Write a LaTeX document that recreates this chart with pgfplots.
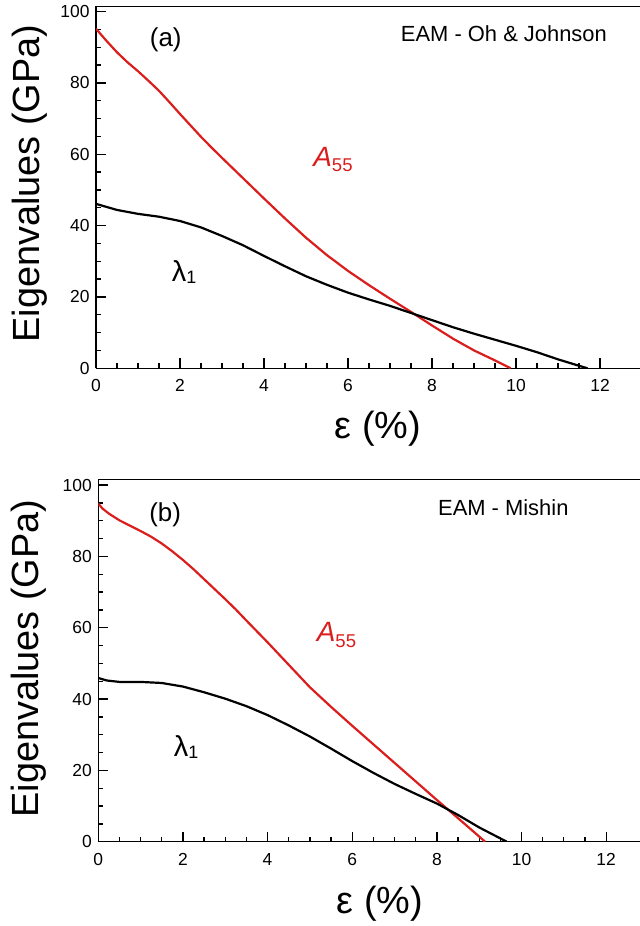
\documentclass[border=0pt]{standalone}
\usepackage{pgfplots}
\pgfplotsset{compat=1.18}
\usepackage{fontspec}
\setmainfont{Liberation Sans}
\definecolor{myred}{RGB}{218,30,30}
\pgfplotsset{
  myax/.style={
    scale only axis, anchor=south west,
    xmin=0, ymin=0, ymax=101.5,
    axis x line=box, axis y line=left,
    axis line style={-, line width=1.5bp, black},
    xtick={0,2,...,12}, ytick={0,20,...,100},
    minor x tick num=3, minor y tick num=3,
    tick align=inside, xtick pos=bottom, ytick pos=left,
    major tick length=10bp, minor tick length=5bp,
    every tick/.style={black, line width=1.3bp},
    tick label style={font=\fontsize{17.5}{20}\selectfont},
    /pgf/number format/assume math mode=true,
    xticklabel style={yshift=-8bp},
    yticklabel style={xshift=-3bp},
    label style={font=\fontsize{38}{44}\selectfont},
    ylabel={Eigenvalues (GPa)},
    xlabel={ε (\%)},
  },
  redl/.style={color=myred, line width=2.2bp, no marks, line join=round},
  blkl/.style={color=black, line width=2.2bp, no marks, line join=round},
}
\begin{document}
\begin{tikzpicture}
\useasboundingbox (0,0) rectangle (640bp,926bp);
% ---------- (a) ----------
\begin{axis}[myax, at={(96bp,557.7bp)}, width=544bp, height=362bp, xmax=12.95,
  ylabel style={at={(axis description cs:-0.103,0.51)}, anchor=base},
  xlabel style={at={(axis description cs:0.518,-0.193)}, anchor=base}]
\addplot[redl] coordinates {(0,95.2)(0.25,91.8)(0.5,88.6)(0.75,85.8)(1.0,83.3)(1.25,80.6)(1.5,77.8)(1.75,74.6)(2.0,71.3)(2.25,68.1)(2.5,64.9)(2.75,61.9)(3.0,59.0)(3.5,53.3)(4.0,47.6)(4.5,42.0)(5.0,36.6)(5.5,31.7)(6.0,27.3)(6.5,23.3)(7.0,19.5)(7.5,15.8)(8.0,12.0)(8.5,8.3)(9.0,5.0)(9.5,2.2)(9.87,0)};
\addplot[blkl] coordinates {(0,46.1)(0.5,44.4)(1.0,43.3)(1.5,42.5)(2.0,41.3)(2.5,39.5)(3.0,37.1)(3.5,34.5)(4.0,31.5)(4.5,28.6)(5.0,25.8)(5.5,23.4)(6.0,21.2)(6.5,19.3)(7.0,17.5)(7.5,15.5)(8.0,13.5)(8.5,11.5)(9.0,9.7)(9.5,8.0)(10.0,6.3)(10.5,4.5)(11.0,2.5)(11.5,0.7)(11.7,0)};
\node[anchor=base, font=\fontsize{26}{30}\selectfont] at (axis cs:1.66,90.3) {(a)};
\node[anchor=base, font=\fontsize{22}{26}\selectfont] at (axis cs:9.71,91.6) {EAM - Oh \& Johnson};
\node[anchor=base west, text=myred, inner sep=0pt] at (axis cs:5.17,56.7) {\fontsize{28}{30}\selectfont\itshape A\raisebox{-5.5bp}{\fontsize{18.6}{20}\selectfont\upshape 55}};
\node[anchor=base west, inner sep=0pt] at (axis cs:1.8,24.3) {\fontsize{29}{32}\selectfont λ\raisebox{-2bp}{\fontsize{18}{20}\selectfont 1}};
\end{axis}
% ---------- (b) ----------
\begin{axis}[myax, at={(98.3bp,84.3bp)}, width=541.7bp, height=362bp, xmax=12.8,
  ylabel style={at={(axis description cs:-0.111,0.506)}, anchor=base},
  xlabel style={at={(axis description cs:0.52,-0.197)}, anchor=base}]
\addplot[redl] coordinates {(0,94.8)(0.1,93.4)(0.25,92.0)(0.5,90.1)(0.75,88.6)(1.0,87.1)(1.25,85.5)(1.5,83.6)(1.75,81.4)(2.0,79.0)(2.25,76.4)(2.5,73.6)(2.75,70.8)(3.0,68.0)(3.25,65.1)(3.5,62.0)(4.0,55.9)(4.5,49.6)(5.0,43.3)(5.5,37.8)(6.0,32.5)(6.5,27.3)(7.0,22.1)(7.5,16.9)(8.0,11.7)(8.5,6.6)(9.14,0)};
\addplot[blkl] coordinates {(0,45.9)(0.2,45.2)(0.5,44.8)(1.0,44.8)(1.5,44.5)(2.0,43.5)(2.5,41.9)(3.0,40.1)(3.5,38.0)(4.0,35.5)(4.5,32.6)(5.0,29.5)(5.5,26.1)(6.0,22.6)(6.5,19.3)(7.0,16.2)(7.5,13.4)(8.0,10.7)(8.5,7.5)(9.0,4.0)(9.65,0)};
\node[anchor=base, font=\fontsize{26}{30}\selectfont] at (axis cs:1.58,89.9) {(b)};
\node[anchor=base, font=\fontsize{22}{26}\selectfont] at (axis cs:9.57,91.4) {EAM - Mishin};
\node[anchor=base west, text=myred, inner sep=0pt] at (axis cs:5.16,56.1) {\fontsize{28}{30}\selectfont\itshape A\raisebox{-5.5bp}{\fontsize{18.6}{20}\selectfont\upshape 55}};
\node[anchor=base west, inner sep=0pt] at (axis cs:1.78,23.8) {\fontsize{29}{32}\selectfont λ\raisebox{-2bp}{\fontsize{18}{20}\selectfont 1}};
\end{axis}
\end{tikzpicture}
\end{document}
